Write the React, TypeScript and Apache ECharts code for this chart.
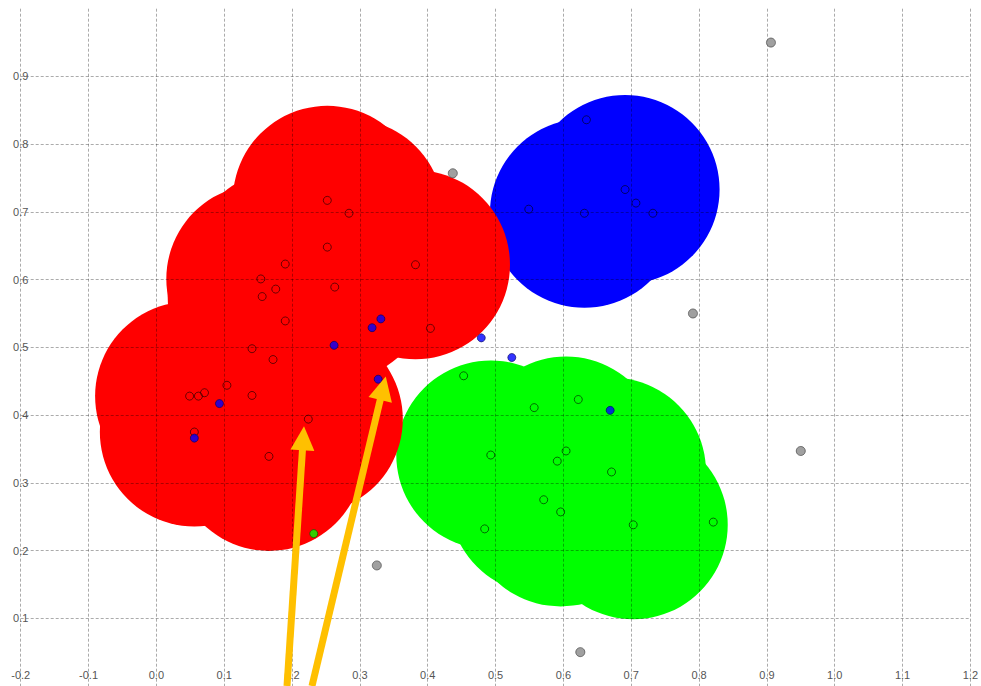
import React, { useEffect, useRef } from "react";
import * as echarts from "echarts";

// All observed points (hollow markers)
const hollowPoints: [number, number][] = [
  [0.252, 0.717], [0.284, 0.698], [0.252, 0.648], [0.19, 0.623], [0.382, 0.622],
  [0.154, 0.601], [0.176, 0.586], [0.263, 0.589], [0.156, 0.575], [0.19, 0.539],
  [0.404, 0.528], [0.141, 0.498], [0.172, 0.482], [0.104, 0.444], [0.071, 0.433],
  [0.062, 0.428], [0.049, 0.428], [0.141, 0.429], [0.224, 0.394], [0.056, 0.375],
  [0.166, 0.339],
  [0.634, 0.836], [0.691, 0.733], [0.707, 0.713], [0.732, 0.698], [0.631, 0.698],
  [0.549, 0.704],
  [0.453, 0.458], [0.557, 0.411], [0.622, 0.423], [0.493, 0.341], [0.604, 0.347],
  [0.591, 0.332], [0.671, 0.316], [0.571, 0.275], [0.596, 0.257], [0.484, 0.232],
  [0.703, 0.238], [0.821, 0.242],
];

// Core points of each cluster (drawn as large discs)
const redCores: [number, number][] = [
  [0.252, 0.717], [0.284, 0.698], [0.252, 0.648], [0.19, 0.623], [0.382, 0.622],
  [0.154, 0.601], [0.176, 0.586], [0.263, 0.589], [0.156, 0.575], [0.19, 0.539],
  [0.141, 0.498], [0.172, 0.482], [0.104, 0.444], [0.071, 0.433], [0.062, 0.428],
  [0.049, 0.428], [0.141, 0.429], [0.224, 0.394], [0.056, 0.375], [0.166, 0.339],
];
const blueCores: [number, number][] = [[0.691, 0.733], [0.631, 0.698]];
const greenCores: [number, number][] = [
  [0.493, 0.341], [0.604, 0.347], [0.591, 0.332], [0.671, 0.316],
  [0.571, 0.275], [0.596, 0.257], [0.703, 0.238],
];

// Filled markers
const blueDots: [number, number][] = [
  [0.331, 0.542], [0.318, 0.529], [0.262, 0.503], [0.327, 0.453], [0.093, 0.417],
  [0.056, 0.366], [0.479, 0.514], [0.524, 0.485], [0.669, 0.407],
];
const grayDots: [number, number][] = [
  [0.437, 0.757], [0.791, 0.55], [0.906, 0.95], [0.95, 0.347], [0.325, 0.178], [0.625, 0.05],
];
const greenDots: [number, number][] = [[0.232, 0.225]];

// Annotation arrows: [start, end] in data units
const arrows: [[number, number], [number, number]][] = [
  [[0.1926, 0.0], [0.2165, 0.3657]],
  [[0.2294, 0.0], [0.3341, 0.4397]],
];

const X_MIN = -0.2;
const X_MAX = 1.2;
const Y_MIN = 0;
const Y_MAX = 1.0;
const STEP = 0.1;

export default function App() {
  const ref = useRef<HTMLDivElement>(null);
  useEffect(() => {
    document.body.style.margin = "0";
    if (!ref.current) return;
    const chart = echarts.init(ref.current, undefined, { renderer: "svg" });
    const gridLine = {
      show: true,
      lineStyle: { color: "rgba(0,0,0,0.33)", width: 1, type: [3, 2] as any },
    };
    const labelStyle = {
      color: "#555",
      fontSize: 11,
      fontFamily: "Liberation Sans, Arial, sans-serif",
      formatter: (v: number) => v.toFixed(1),
    };
    const bigDisc = (data: [number, number][], color: string, z: number) => ({
      type: "scatter",
      data,
      symbol: "circle",
      symbolSize: 189,
      itemStyle: { color, opacity: 1 },
      silent: true,
      z,
      emphasis: { disabled: true },
    });
    chart.setOption({
      animation: false,
      backgroundColor: "#ffffff",
      grid: { left: 20.7, top: 8.7, width: 952.3, height: 680, containLabel: false },
      xAxis: {
        type: "value",
        min: X_MIN,
        max: X_MAX,
        interval: STEP,
        z: 2,
        axisLine: { show: false },
        axisTick: { show: false },
        splitLine: gridLine,
        axisLabel: { ...labelStyle, margin: -11, verticalAlign: "middle" },
      },
      yAxis: {
        type: "value",
        min: Y_MIN,
        max: Y_MAX,
        interval: STEP,
        z: 2,
        axisLine: { show: false },
        axisTick: { show: false },
        splitLine: { ...gridLine, showMaxLine: false },
        axisLabel: { ...labelStyle, margin: 0, align: "center", showMinLabel: false, showMaxLabel: false },
      },
      series: [
        bigDisc(blueCores, "#0000ff", 1),
        bigDisc(greenCores, "#00ff00", 1),
        bigDisc(redCores, "#ff0000", 1),
        {
          type: "scatter",
          data: hollowPoints,
          symbol: "circle",
          symbolSize: 8,
          itemStyle: { color: "rgba(0,0,0,0)", borderColor: "rgba(0,0,0,0.72)", borderWidth: 1 },
          silent: true,
          z: 3,
          emphasis: { disabled: true },
        },
        {
          type: "scatter",
          data: blueDots,
          symbol: "circle",
          symbolSize: 8,
          itemStyle: { color: "#0000ff", borderColor: "#00005a", borderWidth: 0.8 },
          silent: true,
          z: 3,
          emphasis: { disabled: true },
        },
        {
          type: "scatter",
          data: grayDots,
          symbol: "circle",
          symbolSize: 9,
          itemStyle: { color: "#888888", borderColor: "#555555", borderWidth: 1 },
          silent: true,
          z: 3,
          emphasis: { disabled: true },
        },
        {
          type: "scatter",
          data: greenDots,
          symbol: "circle",
          symbolSize: 8,
          itemStyle: { color: "#00ff00", borderColor: "#005500", borderWidth: 0.8 },
          silent: true,
          z: 3,
          emphasis: { disabled: true },
          markLine: {
            silent: true,
            z: 6,
            symbol: ["none", "triangle"],
            symbolSize: 24,
            label: { show: false },
            emphasis: { disabled: true },
            lineStyle: { color: "#FFC000", width: 7, type: "solid", opacity: 1 },
            data: arrows.map(([a, b]) => [{ coord: a }, { coord: b }]),
          },
        },
      ],
    });
    return () => chart.dispose();
  }, []);
  return (
    <div
      ref={ref}
      style={{ position: "fixed", left: 0, top: 0, width: 981, height: 686, background: "#fff" }}
    />
  );
}
